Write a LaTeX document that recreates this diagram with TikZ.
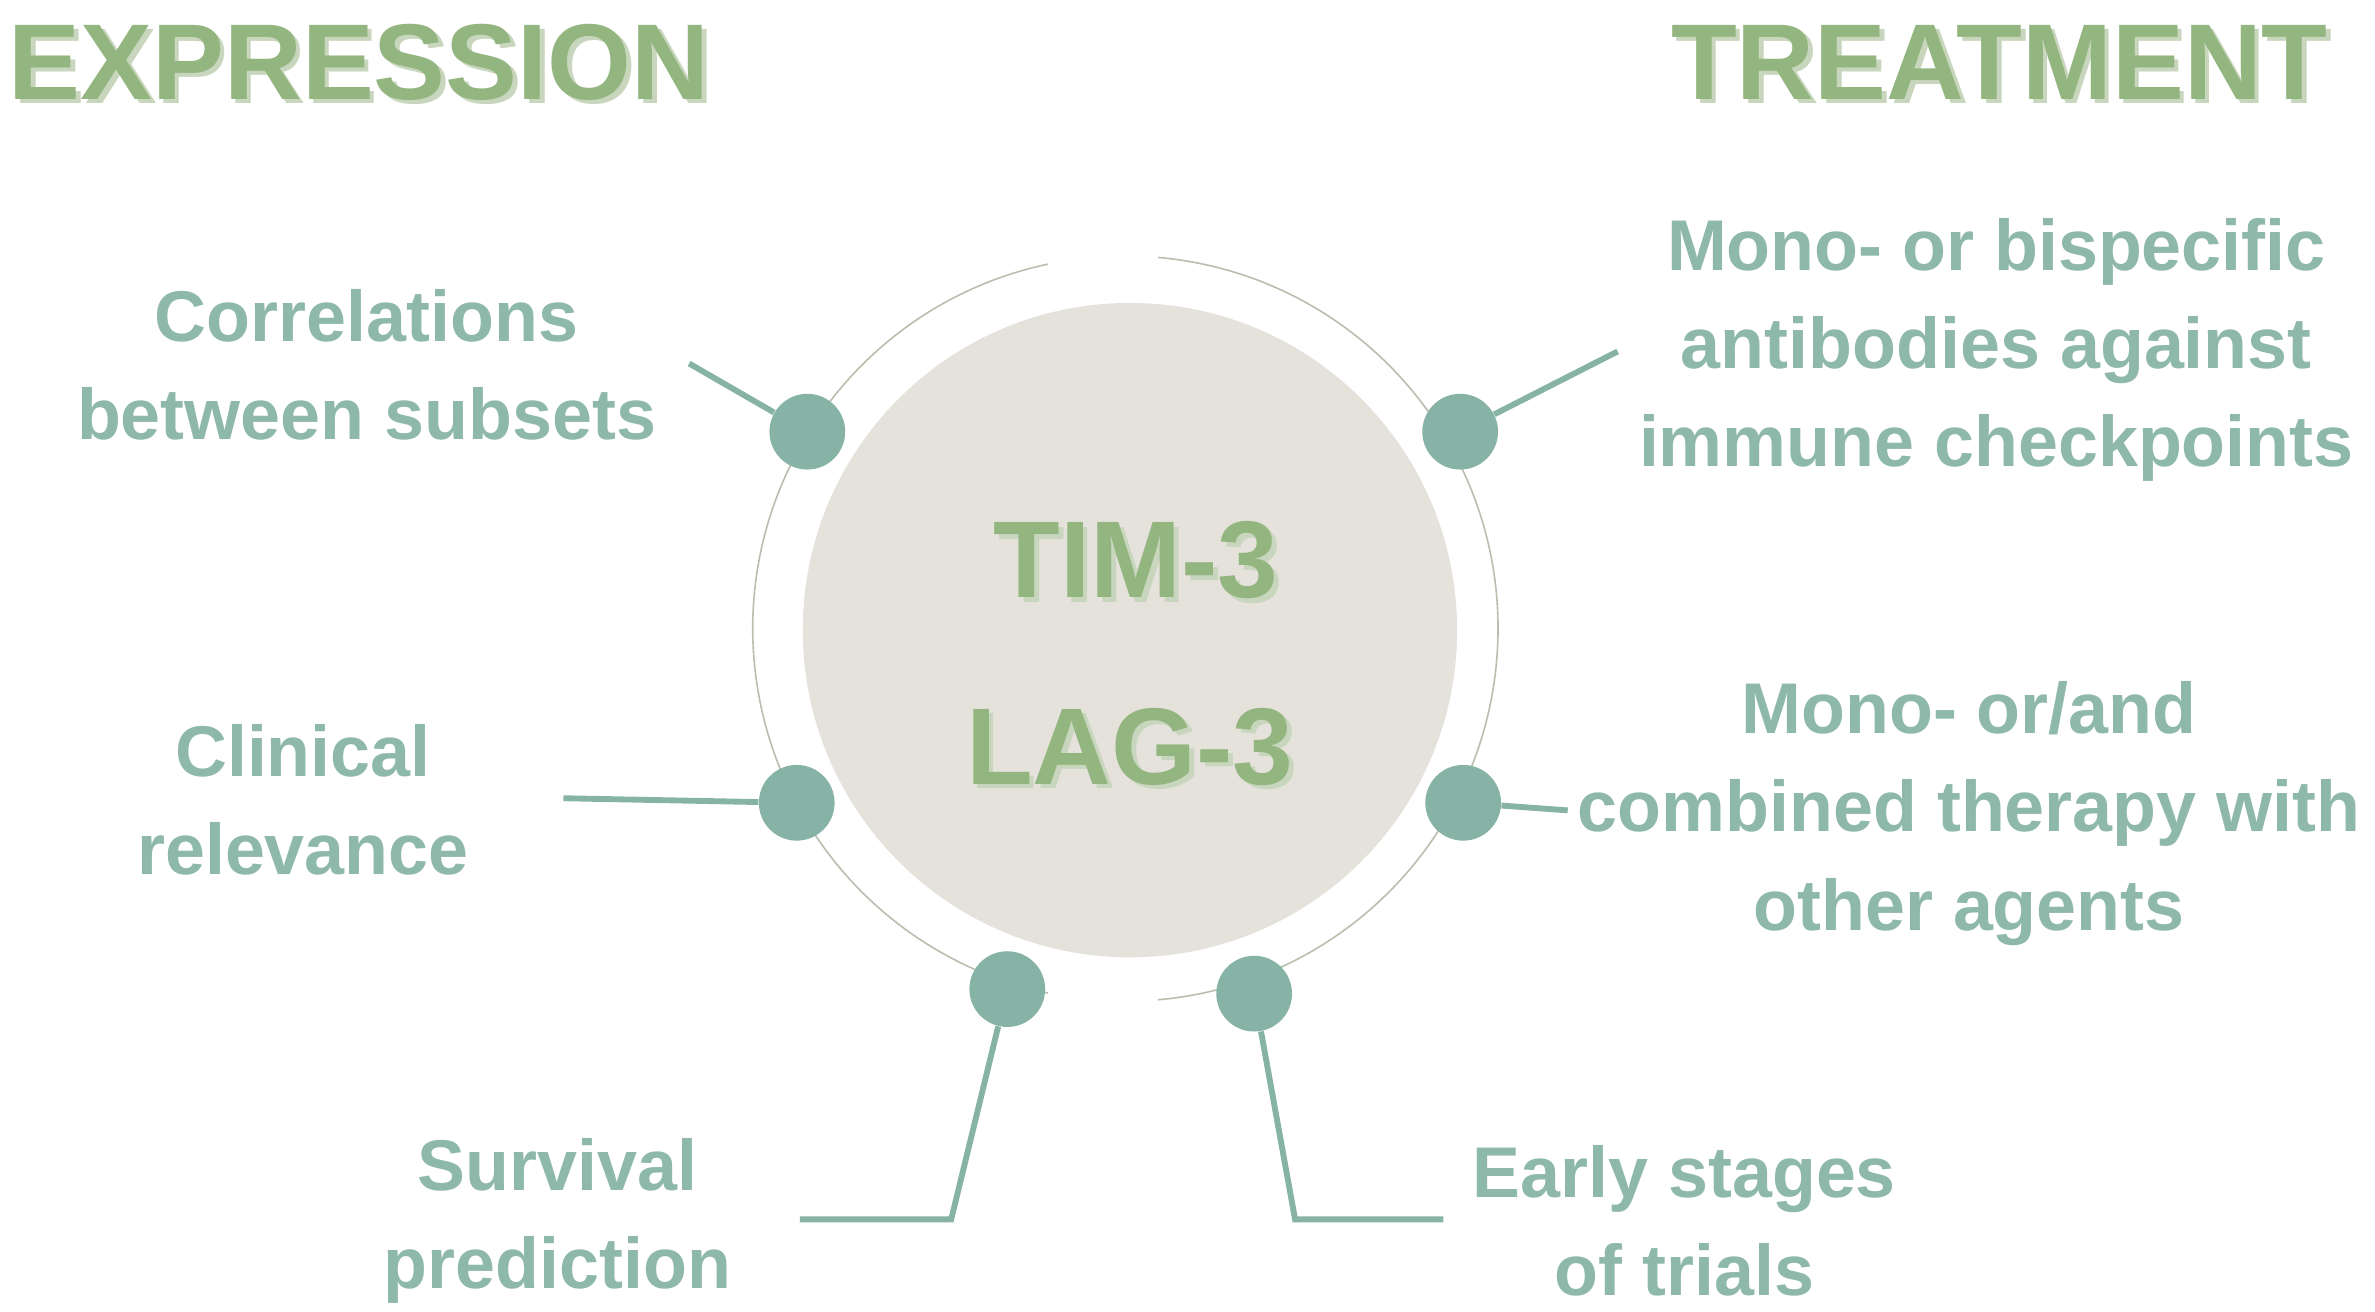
\documentclass[tikz,border=0pt]{standalone}
\usepackage{fontspec}
\setmainfont{Liberation Sans}
\definecolor{teal1}{HTML}{86B3A5}
\definecolor{txt}{HTML}{8DB8AA}
\definecolor{head}{HTML}{93B57F}
\definecolor{shad}{HTML}{C9D6BE}
\definecolor{disk}{HTML}{E5E2DC}
\definecolor{ring}{HTML}{B9BFAE}
\begin{document}
\begin{tikzpicture}[x=0.02cm,y=-0.02cm,
  dot/.style={circle,fill=teal1,minimum size=50*0.02cm,inner sep=0},
  lbl/.style={text=txt,font=\bfseries\fontsize{27}{37}\selectfont,align=center},
  hd/.style={text=head,font=\bfseries\fontsize{40.5}{46}\selectfont},
  big/.style={text=head,font=\bfseries\fontsize{41}{46}\selectfont},
  conn/.style={teal1,line width=2.2pt}]
\useasboundingbox (0,0) rectangle (1568,866);
\fill[white] (0,0) rectangle (1568,866);
% ring with gaps
\coordinate (ctr) at (743,415);
\draw[ring,line width=0.6pt] (ctr) ++(-102:246) arc[start angle=-102,end angle=-258,radius=246];
\draw[ring,line width=0.6pt] (ctr) ++(-85:246) arc[start angle=-85,end angle=85,radius=246];
\node[circle,fill=disk,minimum size=432*0.02cm,inner sep=0] (disk) at (746,416) {};
% headings
\node[hd,text=shad] at (240,44) {EXPRESSION};
\node[hd] (h1) at (237,41) {EXPRESSION};
\node[hd,text=shad] at (1323,44) {TREATMENT};
\node[hd] (h2) at (1320,41) {TREATMENT};
\node[big,text=shad] at (753,373) {TIM-3};
\node[big] (t1) at (750,370) {TIM-3};
\node[big,text=shad] at (749,496) {LAG-3};
\node[big] (t2) at (746,493) {LAG-3};
% dots
\node[dot] (d1) at (533,285) {};
\node[dot] (d2) at (964,285) {};
\node[dot] (d3) at (526,530) {};
\node[dot] (d4) at (966,530) {};
\node[dot] (d5) at (665,653) {};
\node[dot] (d6) at (828,656) {};
% labels
\node[lbl] (l1) at (242,241) {Correlations\\between subsets};
\node[lbl] (l2) at (1318,231) {Mono- or bispecific\\antibodies against\\immune checkpoints};
\node[lbl] (l3) at (200,528) {Clinical\\relevance};
\node[lbl] (l4) at (1300,537) {Mono- or/and\\combined therapy with\\other agents};
\node[lbl] (l5) at (368,806) {Survival\\prediction};
\node[lbl] (l6) at (1112,806) {Early stages\\of trials};
% connectors
\coordinate (c1) at (455,240);
\coordinate (c2) at (1068,232);
\coordinate (c3) at (372,527);
\coordinate (c4) at (1035,535);
\coordinate (c5a) at (628,805); \coordinate (c5b) at (528,805);
\coordinate (c6a) at (855,805); \coordinate (c6b) at (953,805);
\draw[conn] (c1) -- (d1);
\draw[conn] (d2) -- (c2);
\draw[conn] (c3) -- (d3);
\draw[conn] (d4) -- (c4);
\draw[conn] (d5) -- (c5a) -- (c5b);
\draw[conn] (d6) -- (c6a) -- (c6b);
\end{tikzpicture}
\end{document}
